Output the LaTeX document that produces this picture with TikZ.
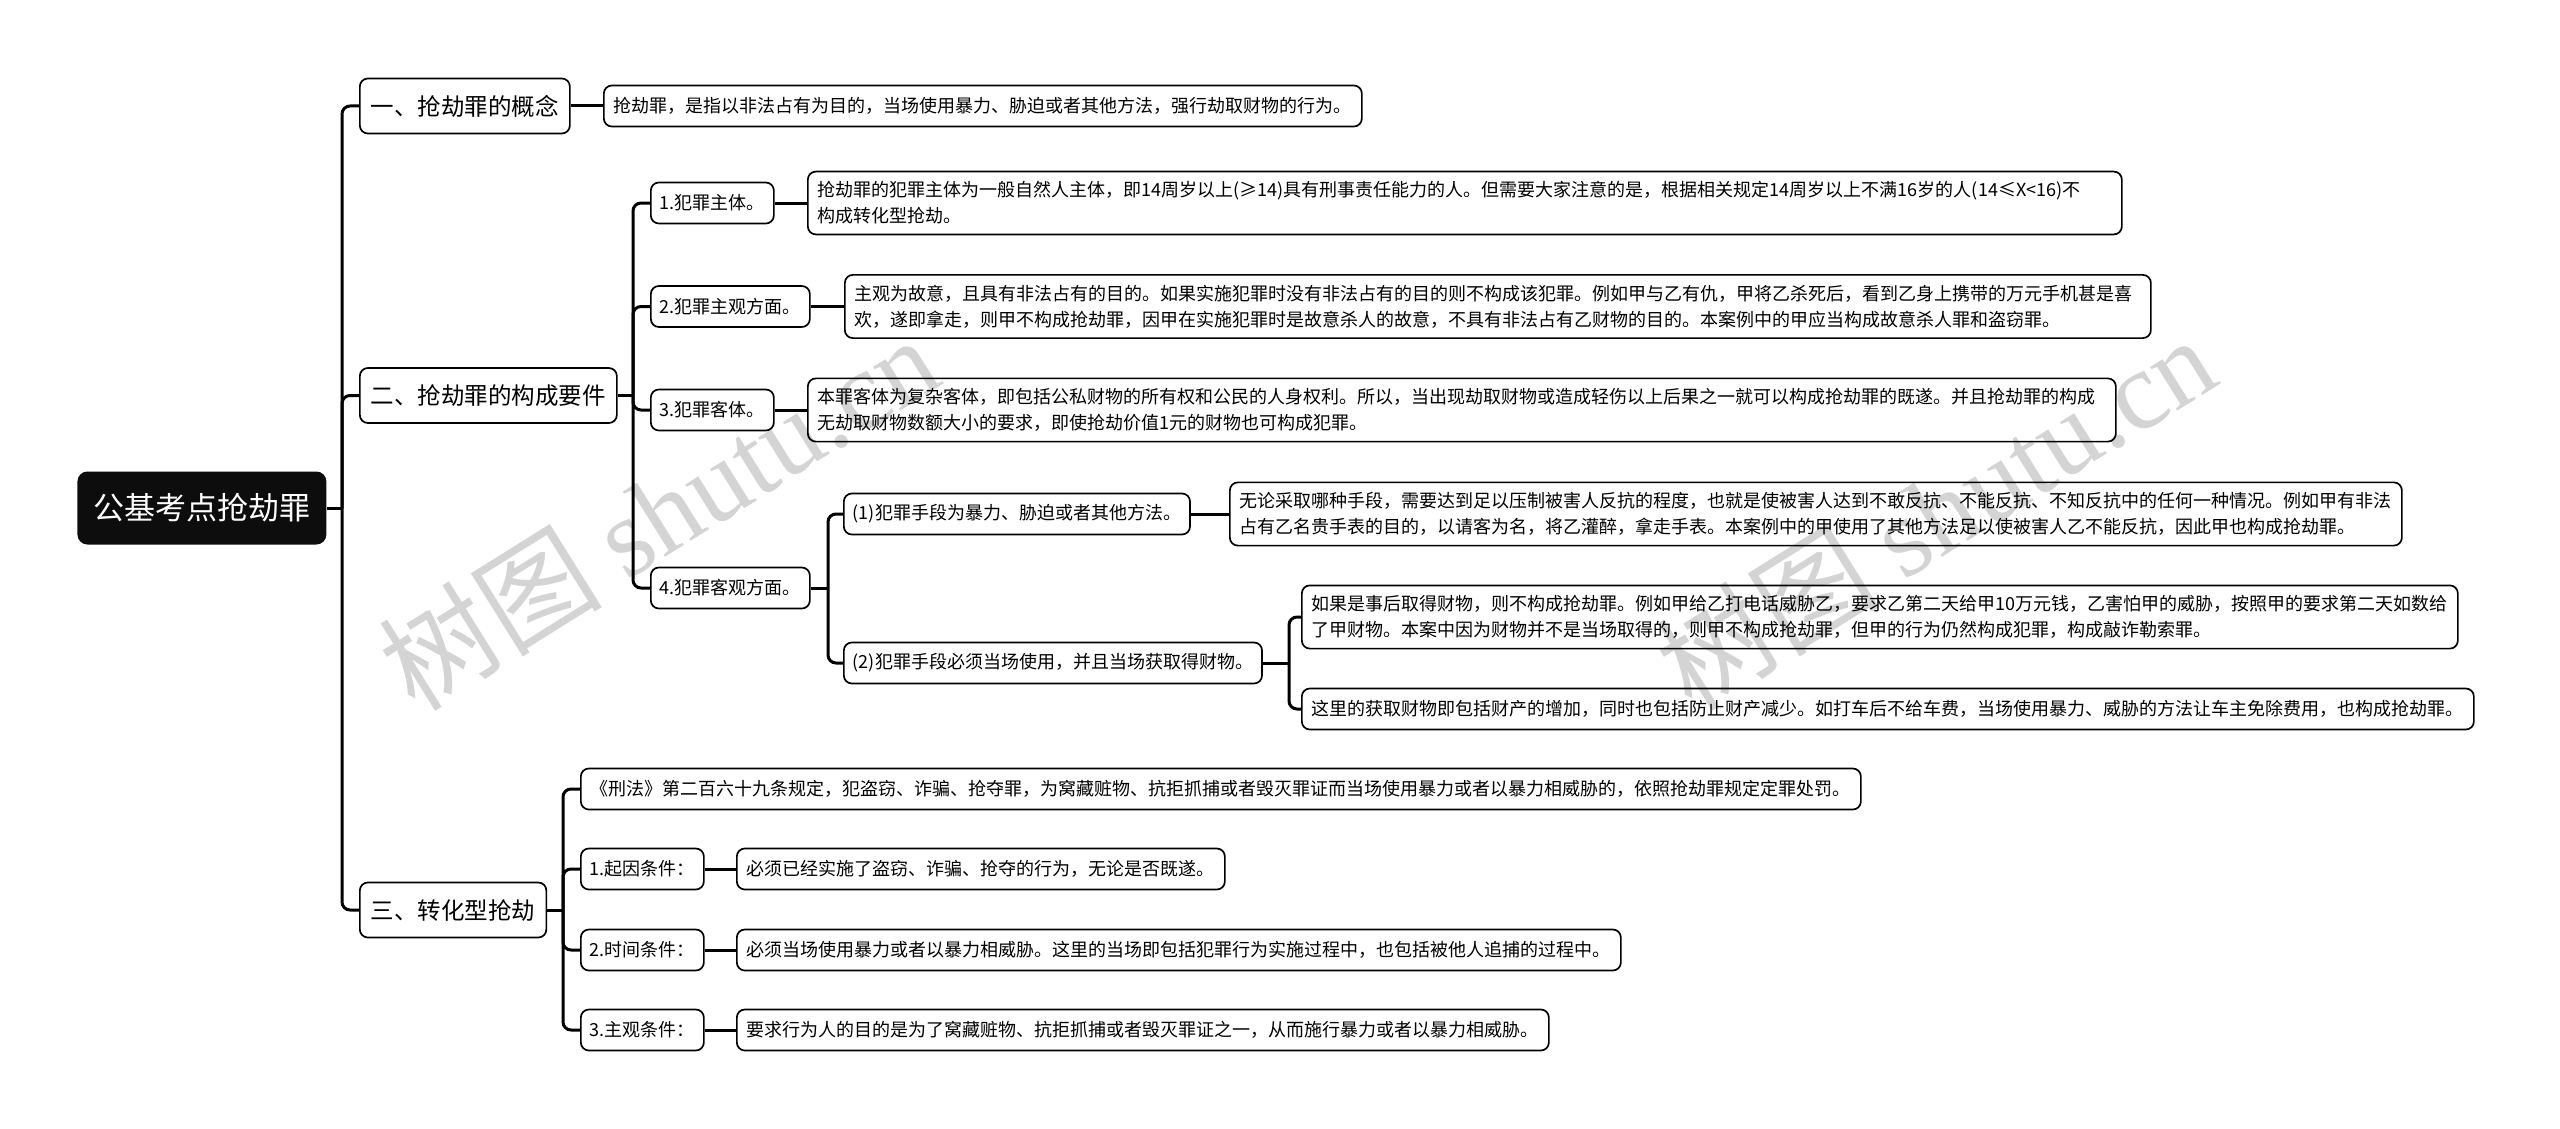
\documentclass[tikz,border=0pt]{standalone}
\usepackage{fontspec}
\setmainfont{Noto Sans CJK SC}
\newfontfamily\wmfont{Liberation Serif}
\usetikzlibrary{calc}
\tikzset{
  conn/.style={line width=1.5pt, draw=black, rounded corners=4pt},
  boxbase/.style={draw=black, line width=0.85pt, rounded corners=4pt, fill=white, anchor=west, align=left},
  rootbox/.style={fill=black!95, text=white, rounded corners=5pt, anchor=west, minimum width=124.5pt, minimum height=36.5pt, font=\fontsize{15.5}{18}\selectfont},
  l1box/.style={boxbase, font=\fontsize{11.75}{14}\selectfont, minimum height=27.5pt, inner xsep=5.5pt},
  lab/.style={boxbase, font=\fontsize{9}{13}\selectfont, minimum height=20.5pt, inner xsep=4.5pt},
  txt/.style={boxbase, font=\fontsize{9}{13}\selectfont, minimum height=20.5pt, inner xsep=5pt, inner ysep=5pt},
  wm/.style={text=black, opacity=0.17, rotate=32, font=\fontsize{56}{56}\selectfont}
}
\begin{document}
\begin{tikzpicture}[x=0.5pt,y=-0.5pt]
\useasboundingbox (0,0) rectangle (2560,1129);
\fill[white] (0,0) rectangle (2560,1129);

% nodes
\node[rootbox] (root) at (77,508) {公基考点抢劫罪};

\node[l1box] (a) at (359,106) {一、抢劫罪的概念};
\node[l1box] (b) at (359,395.5) {二、抢劫罪的构成要件};
\node[l1box] (c) at (359,910) {三、转化型抢劫};

\node[txt] (a1) at (603,106) {抢劫罪，是指以非法占有为目的，当场使用暴力、胁迫或者其他方法，强行劫取财物的行为。};

\node[lab] (b1) at (650,203) {1.犯罪主体。};
\node[lab] (b2) at (650,306.5) {2.犯罪主观方面。};
\node[lab] (b3) at (650,410) {3.犯罪客体。};
\node[lab] (b4) at (650,588) {4.犯罪客观方面。};

\node[txt, text width=647pt] (t1) at (807,203) {抢劫罪的犯罪主体为一般自然人主体，即14周岁以上(≥14)具有刑事责任能力的人。但需要大家注意的是，根据相关规定14周岁以上不满16岁的人(14≤X<16)不\\构成转化型抢劫。};
\node[txt, text width=643pt] (t2) at (844,306.5) {主观为故意，且具有非法占有的目的。如果实施犯罪时没有非法占有的目的则不构成该犯罪。例如甲与乙有仇，甲将乙杀死后，看到乙身上携带的万元手机甚是喜\\欢，遂即拿走，则甲不构成抢劫罪，因甲在实施犯罪时是故意杀人的故意，不具有非法占有乙财物的目的。本案例中的甲应当构成故意杀人罪和盗窃罪。};
\node[txt, text width=644pt] (t3) at (807,410) {本罪客体为复杂客体，即包括公私财物的所有权和公民的人身权利。所以，当出现劫取财物或造成轻伤以上后果之一就可以构成抢劫罪的既遂。并且抢劫罪的构成\\无劫取财物数额大小的要求，即使抢劫价值1元的财物也可构成犯罪。};

\node[lab] (p1) at (843,514) {(1)犯罪手段为暴力、胁迫或者其他方法。};
\node[lab] (p2) at (843,663) {(2)犯罪手段必须当场使用，并且当场获取得财物。};

\node[txt] (p1t) at (1229,514) {无论采取哪种手段，需要达到足以压制被害人反抗的程度，也就是使被害人达到不敢反抗、不能反抗、不知反抗中的任何一种情况。例如甲有非法\\占有乙名贵手表的目的，以请客为名，将乙灌醉，拿走手表。本案例中的甲使用了其他方法足以使被害人乙不能反抗，因此甲也构成抢劫罪。};
\node[txt] (p2a) at (1301,617) {如果是事后取得财物，则不构成抢劫罪。例如甲给乙打电话威胁乙，要求乙第二天给甲10万元钱，乙害怕甲的威胁，按照甲的要求第二天如数给\\了甲财物。本案中因为财物并不是当场取得的，则甲不构成抢劫罪，但甲的行为仍然构成犯罪，构成敲诈勒索罪。};
\node[txt] (p2b) at (1301,709) {这里的获取财物即包括财产的增加，同时也包括防止财产减少。如打车后不给车费，当场使用暴力、威胁的方法让车主免除费用，也构成抢劫罪。};

\node[txt] (c0) at (580,789) {《刑法》第二百六十九条规定，犯盗窃、诈骗、抢夺罪，为窝藏赃物、抗拒抓捕或者毁灭罪证而当场使用暴力或者以暴力相威胁的，依照抢劫罪规定定罪处罚。};
\node[lab] (c1) at (580,869) {1.起因条件：};
\node[lab] (c2) at (580,950) {2.时间条件：};
\node[lab] (c3) at (580,1030) {3.主观条件：};
\node[txt] (c1t) at (736,869) {必须已经实施了盗窃、诈骗、抢夺的行为，无论是否既遂。};
\node[txt] (c2t) at (736,950) {必须当场使用暴力或者以暴力相威胁。这里的当场即包括犯罪行为实施过程中，也包括被他人追捕的过程中。};
\node[txt] (c3t) at (736,1030) {要求行为人的目的是为了窝藏赃物、抗拒抓捕或者毁灭罪证之一，从而施行暴力或者以暴力相威胁。};

% bus coordinates
\coordinate (j0) at (342,508);
\coordinate (jb) at (633,395.5);
\coordinate (jc) at (563,910);
\coordinate (j4) at (828,588);
\coordinate (jp) at (1289,663);

% connectors
\draw[conn] (root.east) -- (j0);
\draw[conn] (j0) |- (a.west);
\draw[conn] (j0) |- (b.west);
\draw[conn] (j0) |- (c.west);

\draw[conn] (a.east) -- (a1.west);

\draw[conn] (b.east) -- (jb);
\draw[conn] (jb) |- (b1.west);
\draw[conn] (jb) |- (b2.west);
\draw[conn] (jb) |- (b3.west);
\draw[conn] (jb) |- (b4.west);
\draw[conn] (b1.east) -- (t1.west);
\draw[conn] (b2.east) -- (t2.west);
\draw[conn] (b3.east) -- (t3.west);

\draw[conn] (b4.east) -- (j4);
\draw[conn] (j4) |- (p1.west);
\draw[conn] (j4) |- (p2.west);
\draw[conn] (p1.east) -- (p1t.west);
\draw[conn] (p2.east) -- (jp);
\draw[conn] (jp) |- (p2a.west);
\draw[conn] (jp) |- (p2b.west);

\draw[conn] (c.east) -- (jc);
\draw[conn] (jc) |- (c0.west);
\draw[conn] (jc) |- (c1.west);
\draw[conn] (jc) |- (c2.west);
\draw[conn] (jc) |- (c3.west);
\draw[conn] (c1.east) -- (c1t.west);
\draw[conn] (c2.east) -- (c2t.west);
\draw[conn] (c3.east) -- (c3t.west);

% watermarks
\node[wm] (w1) at (658,512) {树图 {\wmfont shutu.cn}};
\node[wm] (w2) at (1935,512) {树图 {\wmfont shutu.cn}};
\end{tikzpicture}
\end{document}
